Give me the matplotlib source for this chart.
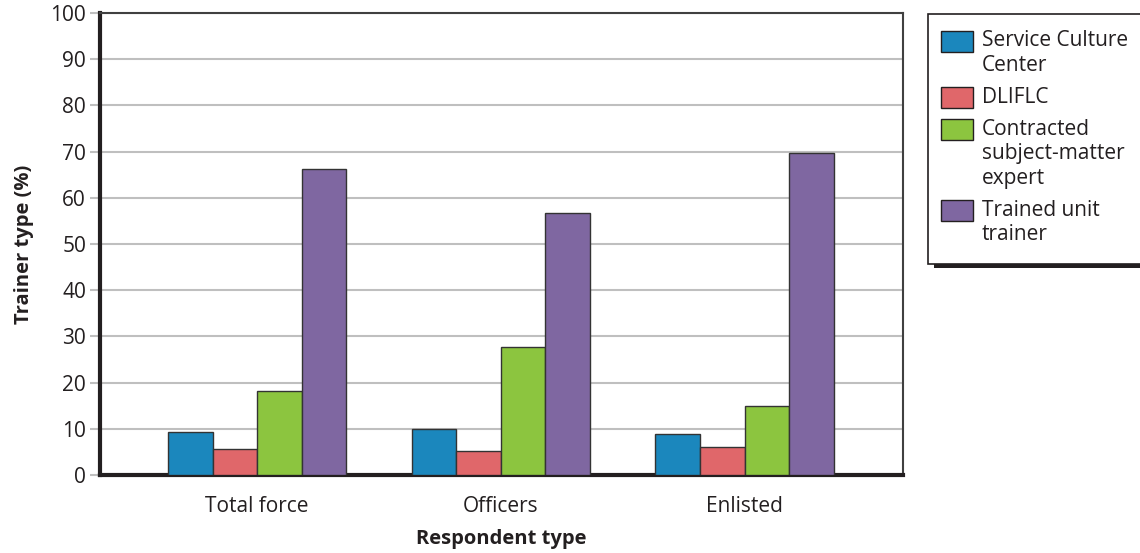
import numpy as np
import matplotlib.pyplot as plt
from matplotlib.patches import Rectangle

#Dados
categorias = ['Total force', 'Officers', 'Enlisted']
series = ['Service Culture\nCenter', 'DLIFLC', 'Contracted\nsubject-matter\nexpert', 'Trained unit\ntrainer']
service_culture = [9.3, 9.9, 8.9]
dliflc = [5.7, 5.2, 6.0]
contracted = [18.1, 27.7, 15.0]
trained_unit = [66.3, 56.8, 69.6]
yticks = [0, 10, 20, 30, 40, 50, 60, 70, 80, 90, 100]

cores = ['#1b87bd', '#e0676a', '#8cc53f', '#7f67a1']
valores = [service_culture, dliflc, contracted, trained_unit]

plt.rcParams['font.family'] = ['Open Sans', 'DejaVu Sans']

fig = plt.figure(figsize=(11.4, 5.53), dpi=100)
W, H = 1140, 553
ax = fig.add_axes([100/W, 1-475/H, 803/W, (475-13)/H])

x = np.arange(len(categorias))
largura = 0.183
for i, (v, c) in enumerate(zip(valores, cores)):
    ax.bar(x + (i-1.5)*largura, v, largura, color=c, edgecolor='#333333', linewidth=1.0, zorder=3)

ax.set_xlim(-0.645, 2.65)
ax.set_ylim(0, 100)
ax.set_yticks(yticks)
ax.set_xticks(x)
ax.set_xticklabels(categorias, fontsize=15, color='#231f20')
ax.tick_params(axis='x', length=0, pad=15)
ax.tick_params(axis='y', length=7, width=1.5, color='#bfbfbf', labelsize=15, labelcolor='#231f20', pad=3)
ax.yaxis.grid(True, color='#bfbfbf', linewidth=1.5, zorder=0)
ax.set_axisbelow(True)

ax.spines['left'].set_linewidth(3)
ax.spines['bottom'].set_linewidth(3)
ax.spines['left'].set_color('#231f20')
ax.spines['bottom'].set_color('#231f20')
ax.spines['top'].set_linewidth(1.5)
ax.spines['right'].set_linewidth(1.5)
ax.spines['top'].set_color('#404040')
ax.spines['right'].set_color('#404040')

ax.set_xlabel('Respondent type', fontsize=14.5, fontweight='bold', color='#231f20', labelpad=9)
ax.set_ylabel('Trainer type (%)', fontsize=14.5, fontweight='bold', color='#231f20', labelpad=12)

#Legenda feita a mao (caixa com sombra)
sombra = Rectangle((934/W, 1-268/H), 220/W, 254/H, transform=fig.transFigure,
                   facecolor='#231f20', edgecolor='none', zorder=1)
caixa = Rectangle((928/W, 1-264/H), 220/W, 250/H, transform=fig.transFigure,
                  facecolor='white', edgecolor='#231f20', linewidth=1.2, zorder=2)
fig.patches.extend([sombra, caixa])

y_linha = 41
for nome, c in zip(series, cores):
    linhas = nome.split('\n')
    fig.patches.append(Rectangle((941/W, 1-(y_linha+11)/H), 32/W, 21/H, transform=fig.transFigure,
                                 facecolor=c, edgecolor='#231f20', linewidth=1.0, zorder=3))
    for k, t in enumerate(linhas):
        fig.text(982/W, 1-(y_linha + k*24.5)/H, t, fontsize=15, color='#231f20', va='center', ha='left', zorder=4)
    y_linha += (len(linhas)-1)*24.5 + 32

fig.savefig('out.png', dpi=100)
